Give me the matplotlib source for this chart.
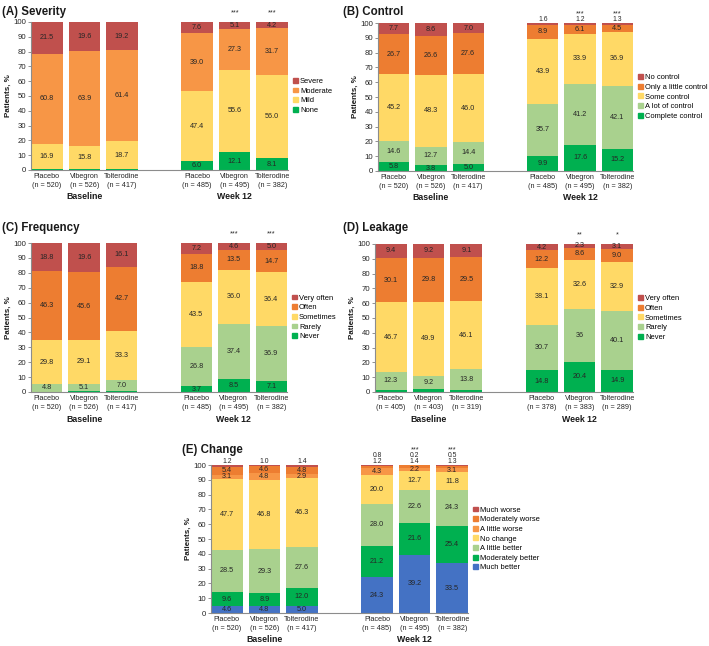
import matplotlib
matplotlib.use('Agg')
import matplotlib.pyplot as plt
from matplotlib.patches import Patch

plt.rcParams['font.family'] = ['Liberation Sans', 'DejaVu Sans']

W, H = 709, 646

groups = ['Placebo', 'Vibegron', 'Tolterodine', 'Placebo', 'Vibegron', 'Tolterodine']
xpos = [0, 1, 2, 4, 5, 6]
n_main = [520, 526, 417, 485, 495, 382]
n_leak = [405, 403, 319, 378, 383, 289]

# colours
c_red = '#c0504d'
c_orange = '#ed7d31'
c_lorange = '#f79646'
c_yellow = '#ffd966'
c_lgreen = '#a9d18e'
c_green = '#00b050'
c_blue = '#4472c4'

# (A) Severity, bottom -> top
sev_cats = ['None', 'Mild', 'Moderate', 'Severe']
sev_none = [0.8, 0.7, 0.7, 6.0, 12.1, 8.1]
sev_mild = [16.9, 15.8, 18.7, 47.4, 55.6, 56.0]
sev_moderate = [60.8, 63.9, 61.4, 39.0, 27.3, 31.7]
sev_severe = [21.5, 19.6, 19.2, 7.6, 5.1, 4.2]
sev_stars = ['', '', '', '', '***', '***']

# (B) Control
ctl_cats = ['Complete control', 'A lot of control', 'Some control',
            'Only a little control', 'No control']
ctl_complete = [5.8, 3.8, 5.0, 9.9, 17.6, 15.2]
ctl_alot = [14.6, 12.7, 14.4, 35.7, 41.2, 42.1]
ctl_some = [45.2, 48.3, 46.0, 43.9, 33.9, 36.9]
ctl_little = [26.7, 26.6, 27.6, 8.9, 6.1, 4.5]
ctl_none = [7.7, 8.6, 7.0, 1.6, 1.2, 1.3]
ctl_stars = ['', '', '', '', '***', '***']

# (C) Frequency
frq_cats = ['Never', 'Rarely', 'Sometimes', 'Often', 'Very often']
frq_never = [0.3, 0.6, 0.9, 3.7, 8.5, 7.1]
frq_rarely = [4.8, 5.1, 7.0, 26.8, 37.4, 36.9]
frq_sometimes = [29.8, 29.1, 33.3, 43.5, 36.0, 36.4]
frq_often = [46.3, 45.6, 42.7, 18.8, 13.5, 14.7]
frq_veryoften = [18.8, 19.6, 16.1, 7.2, 4.6, 5.0]
frq_stars = ['', '', '', '', '***', '***']

# (D) Leakage
lk_cats = ['Never', 'Rarely', 'Sometimes', 'Often', 'Very often']
lk_never = [1.5, 1.9, 1.5, 14.8, 20.4, 14.9]
lk_rarely = [12.3, 9.2, 13.8, 30.7, 36, 40.1]
lk_sometimes = [46.7, 49.9, 46.1, 38.1, 32.6, 32.9]
lk_often = [30.1, 29.8, 29.5, 12.2, 8.6, 9.0]
lk_veryoften = [9.4, 9.2, 9.1, 4.2, 2.3, 3.1]
lk_stars = ['', '', '', '', '**', '*']

# (E) Change
chg_cats = ['Much better', 'Moderately better', 'A little better', 'No change',
            'A little worse', 'Moderately worse', 'Much worse']
chg_muchbetter = [4.6, 4.8, 5.0, 24.3, 39.2, 33.5]
chg_modbetter = [9.6, 8.9, 12.0, 21.2, 21.6, 25.4]
chg_littlebetter = [28.5, 29.3, 27.6, 28.0, 22.6, 24.3]
chg_nochange = [47.7, 46.8, 46.3, 20.0, 12.7, 11.8]
chg_littleworse = [3.1, 4.8, 2.9, 4.3, 2.2, 3.1]
chg_modworse = [5.4, 4.6, 4.8, 1.2, 1.4, 1.3]
chg_muchworse = [1.2, 1.0, 1.4, 0.8, 0.2, 0.5]
chg_stars = ['', '', '', '', '***', '***']


def rect(l, t, r, b):
    return [l / W, 1 - b / H, (r - l) / W, (b - t) / H]


def panel(fig, box, title, title_xy, cats, series, colors, ns, stars, fmt_overrides=None):
    ax = fig.add_axes(rect(*box))
    bw = 0.84
    bottoms = [0.0] * len(xpos)
    for cat, vals, col in zip(cats, series, colors):
        ax.bar(xpos, vals, bw, bottom=bottoms, color=col, label=cat, linewidth=0)
        bottoms = [b + v for b, v in zip(bottoms, vals)]
    ptsc = 72 / 100  # px -> points
    step = 5.6
    for i, x in enumerate(xpos):
        cum = 0.0
        above = []
        ncat = len(series)
        for k in range(ncat):
            v = series[k][i]
            txt = f'{v:.1f}'
            if fmt_overrides and (k, i) in fmt_overrides:
                txt = fmt_overrides[(k, i)]
            if v >= 2:
                ax.text(x, cum + v / 2, txt, ha='center', va='center', fontsize=5.2, color='#262626')
            elif all(series[j][i] < 2 for j in range(k, ncat)):
                above.append(txt)
            cum += v
        for j, txt in enumerate(above):
            ax.annotate(txt, (x, 100), xytext=(0, (3.5 + step * j) * ptsc), textcoords='offset points',
                        ha='center', va='center', fontsize=4.9, color='#262626', annotation_clip=False)
        if stars[i]:
            off = 9.5 if not above else 3.5 + step * (len(above) - 1) + 5.8
            ax.annotate(stars[i], (x, 100), xytext=(0, off * ptsc), textcoords='offset points',
                        ha='center', va='center', fontsize=5.2, color='#262626', annotation_clip=False)
    ax.set_xlim(-0.42, 6.42)
    ax.set_ylim(0, 100)
    ax.set_yticks(range(0, 101, 10))
    ax.set_xticks(xpos)
    ax.set_xticklabels([f'{g}\n(n = {n})' for g, n in zip(groups, ns)], fontsize=5.2,
                       color='#262626', linespacing=1.35)
    ax.tick_params(axis='x', length=0, pad=2)
    ax.tick_params(axis='y', labelsize=5.6, length=2, width=0.6, color='#808080',
                   labelcolor='#262626', pad=1.5)
    for s in ['top', 'right']:
        ax.spines[s].set_visible(False)
    for s in ['left', 'bottom']:
        ax.spines[s].set_color('#8c8c8c')
        ax.spines[s].set_linewidth(0.8)
    for gx, gname in [(1, 'Baseline'), (5, 'Week 12')]:
        ax.annotate(gname, (gx, 0), xycoords=('data', 'axes fraction'), xytext=(0, -27 * ptsc),
                    textcoords='offset points', ha='center', va='center', fontsize=6.3,
                    fontweight='bold', color='#1a1a1a', annotation_clip=False)
    handles = [Patch(color=c, label=l) for l, c in zip(cats, colors)][::-1]
    ax.legend(handles=handles, loc='center left', bbox_to_anchor=(1.0, 0.5), frameon=False,
              fontsize=5.4, handlelength=0.6, handleheight=0.6, handletextpad=0.3,
              labelspacing=0.35, borderaxespad=0.5, borderpad=0.2)
    fig.text(title_xy[0] / W, 1 - title_xy[1] / H, title, fontsize=8.3, fontweight='bold',
             ha='left', va='center', color='#1a1a1a')
    fig.text((box[0] - 23) / W, 1 - ((box[1] + box[3]) / 2) / H, 'Patients, %', rotation=90,
             fontsize=5.8, fontweight='bold', ha='center', va='center', color='#1a1a1a')
    return ax


fig = plt.figure(figsize=(W / 100, H / 100), dpi=100)

panel(fig, (31, 22, 288, 170), '(A) Severity', (2, 12), sev_cats,
      [sev_none, sev_mild, sev_moderate, sev_severe],
      [c_green, c_yellow, c_lorange, c_red], n_main, sev_stars)

panel(fig, (378, 23, 633, 171), '(B) Control', (343, 12), ctl_cats,
      [ctl_complete, ctl_alot, ctl_some, ctl_little, ctl_none],
      [c_green, c_lgreen, c_yellow, c_orange, c_red], n_main, ctl_stars)

panel(fig, (31, 243, 287, 392), '(C) Frequency', (2, 228), frq_cats,
      [frq_never, frq_rarely, frq_sometimes, frq_often, frq_veryoften],
      [c_green, c_lgreen, c_yellow, c_orange, c_red], n_main, frq_stars)

panel(fig, (375, 244, 633, 392), '(D) Leakage', (343, 228), lk_cats,
      [lk_never, lk_rarely, lk_sometimes, lk_often, lk_veryoften],
      [c_green, c_lgreen, c_yellow, c_orange, c_red], n_leak, lk_stars,
      fmt_overrides={(1, 4): '36'})

panel(fig, (211, 465, 468, 613), '(E) Change', (182, 450), chg_cats,
      [chg_muchbetter, chg_modbetter, chg_littlebetter, chg_nochange,
       chg_littleworse, chg_modworse, chg_muchworse],
      [c_blue, c_green, c_lgreen, c_yellow, c_lorange, c_orange, c_red], n_main, chg_stars)

fig.savefig('out.png', dpi=100)
